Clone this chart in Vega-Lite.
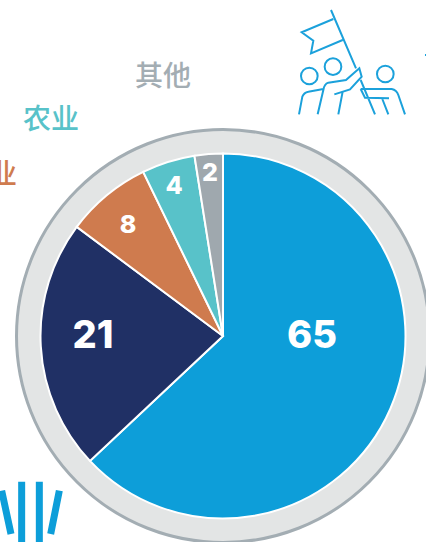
{
"$schema":"https://vega.github.io/schema/vega-lite/v6.json",
"width":398,"height":412,
"autosize":{"type":"none"},
"padding":{"left":24,"top":130,"right":4,"bottom":0},
"background":"white",
"view":{"stroke":null},
"config":{"axis":{"domain":false,"ticks":false,"labels":false,"grid":false,"title":null}},
"datasets":{"pie":[
{"category":"服务业","rank":1,"share":63,"label":"65"},
{"category":"建筑业","rank":2,"share":22.2,"label":"21"},
{"category":"工业","rank":3,"share":7.6,"label":"8"},
{"category":"农业","rank":4,"share":4.7,"label":"4"},
{"category":"其他","rank":5,"share":2.5,"label":"2"}
],"one":[{"n":1}]},
"layer":[
{"data":{"name":"one"},"mark":{"type":"arc","theta":0,"theta2":6.2832,"radius":206.5,"fill":"#e3e5e5","stroke":"#a3adb3","strokeWidth":3},"encoding":{}},
{"data":{"name":"pie"},"mark":{"type":"arc","radius":182.5,"stroke":"white","strokeWidth":2},
"encoding":{"theta":{"field":"share","type":"quantitative","stack":true},"order":{"field":"rank","type":"quantitative"},
"color":{"field":"category","type":"nominal","legend":null,"scale":{"domain":["服务业","建筑业","工业","农业","其他"],"range":["#0d9ed9","#203065","#cf7b4e","#58c2c9","#9fa8ae"]}}}},
{"data":{"name":"one"},"mark":{"type":"point","shape":"M183 30L258 205M272 240L315 343M190 57L95 97L130 122L123 160L218 120M143 228A25 25 0 1 1 93 228A25 25 0 1 1 143 228M214 200A25 25 0 1 1 164 200A25 25 0 1 1 214 200M371 222A25 25 0 1 1 321 222A25 25 0 1 1 371 222M87 343L97 290Q102 277 115 275L160 267M143 343L160 270Q163 252 175 248L228 240L268 205L275 230L240 268L193 283M205 343L218 275M272 267L365 267Q380 270 385 285L405 343M272 267L285 293L357 295M295 295L315 343M337 297L355 343M465 165L470 165","size":0.4444,"filled":false,"stroke":"#1ba1db","strokeWidth":2,"opacity":1},
"encoding":{"x":{"datum":270,"type":"quantitative","scale":{"domain":[24,422],"nice":false,"zero":false},"axis":null},"y":{"datum":0,"type":"quantitative","scale":{"domain":[130,542],"nice":false,"zero":false,"reverse":false,"range":[0,412]},"axis":null}}},
{"data":{"name":"one"},"mark":{"type":"point","shape":"M65 95L65 276M118 95L118 276M5 122L33 252M178 122L152 252","size":0.4444,"filled":false,"stroke":"#0d9ed9","strokeWidth":7,"opacity":1},
"encoding":{"x":{"datum":0,"type":"quantitative"},"y":{"datum":450,"type":"quantitative"}}},
{"data":{"name":"one"},"mark":{"type":"text","text":"65","font":"Inter","fontWeight":800,"fontSize":38,"fill":"white","align":"center","baseline":"middle"},"encoding":{"x":{"datum":312,"type":"quantitative"},"y":{"datum":337,"type":"quantitative"}}},
{"data":{"name":"one"},"mark":{"type":"text","text":"21","font":"Inter","fontWeight":800,"fontSize":38,"fill":"white","align":"center","baseline":"middle"},"encoding":{"x":{"datum":93,"type":"quantitative"},"y":{"datum":337,"type":"quantitative"}}},
{"data":{"name":"one"},"mark":{"type":"text","text":"8","font":"Inter","fontWeight":800,"fontSize":25,"fill":"white","align":"center","baseline":"middle"},"encoding":{"x":{"datum":128,"type":"quantitative"},"y":{"datum":225,"type":"quantitative"}}},
{"data":{"name":"one"},"mark":{"type":"text","text":"4","font":"Inter","fontWeight":800,"fontSize":25,"fill":"white","align":"center","baseline":"middle"},"encoding":{"x":{"datum":174,"type":"quantitative"},"y":{"datum":186,"type":"quantitative"}}},
{"data":{"name":"one"},"mark":{"type":"text","text":"2","font":"Inter","fontWeight":800,"fontSize":25,"fill":"white","align":"center","baseline":"middle"},"encoding":{"x":{"datum":210,"type":"quantitative"},"y":{"datum":173,"type":"quantitative"}}},
{"data":{"name":"one"},"mark":{"type":"text","text":"其他","font":"Noto Sans CJK SC","fontWeight":500,"fontSize":28,"fill":"#a3adb3","align":"center","baseline":"middle"},"encoding":{"x":{"datum":163,"type":"quantitative"},"y":{"datum":78,"type":"quantitative"}}},
{"data":{"name":"one"},"mark":{"type":"text","text":"农业","font":"Noto Sans CJK SC","fontWeight":500,"fontSize":28,"fill":"#58c2c9","align":"center","baseline":"middle"},"encoding":{"x":{"datum":51,"type":"quantitative"},"y":{"datum":121,"type":"quantitative"}}},
{"data":{"name":"one"},"mark":{"type":"text","text":"工业","font":"Noto Sans CJK SC","fontWeight":500,"fontSize":28,"fill":"#cf7b4e","align":"right","baseline":"middle"},"encoding":{"x":{"datum":17,"type":"quantitative"},"y":{"datum":176,"type":"quantitative"}}}
]
}
